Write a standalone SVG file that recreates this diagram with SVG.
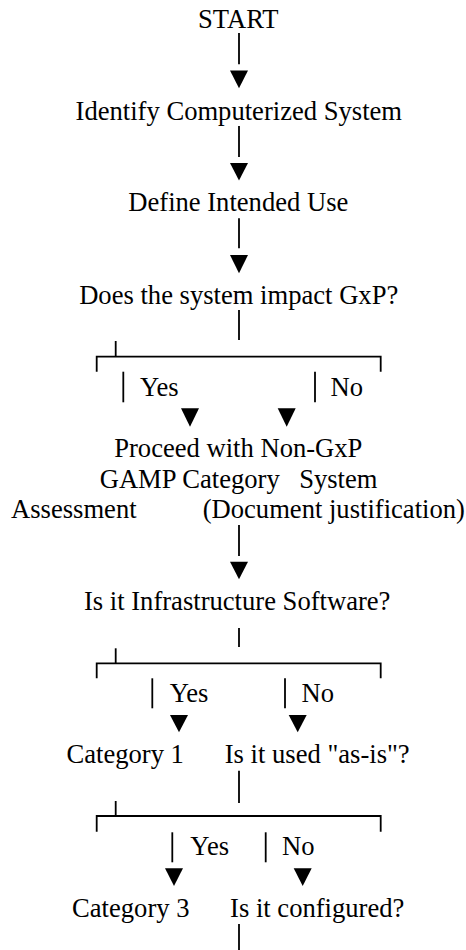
<svg xmlns="http://www.w3.org/2000/svg" width="466" height="950" viewBox="0 0 466 950">
<style>
text{font-family:"Liberation Serif","Times New Roman",serif;font-size:26.6px;fill:#000;text-anchor:middle}
.c line,.c path{stroke:#000;stroke-width:1.8;fill:none}
.c polygon{fill:#000;stroke:none}
</style>
<rect width="466" height="950" fill="#fff"/>
<g id="start"><text x="238.3" y="28.3">START</text></g>
<g id="identify"><text x="238.8" y="119.5">Identify Computerized System</text></g>
<g id="define"><text x="238.3" y="211">Define Intended Use</text></g>
<g id="gxp"><text x="238.7" y="303.5">Does the system impact GxP?</text></g>
<g id="gxp-yes"><text x="159.3" y="396">Yes</text></g>
<g id="gxp-no"><text x="346.8" y="396">No</text></g>
<g id="outcome1">
<text x="238.3" y="457">Proceed with Non-GxP</text>
<text x="189.7" y="487.7">GAMP Category</text>
<text x="338.3" y="487.7">System</text>
<text x="73.8" y="518">Assessment</text>
<text x="333.8" y="518">(Document justification)</text>
</g>
<g id="infra"><text x="237.2" y="610">Is it Infrastructure Software?</text></g>
<g id="infra-yes"><text x="189" y="701.7">Yes</text></g>
<g id="infra-no"><text x="317.8" y="701.7">No</text></g>
<g id="cat1"><text x="125.2" y="763">Category 1</text></g>
<g id="asis"><text x="317.2" y="763">Is it used "as-is"?</text></g>
<g id="asis-yes"><text x="209.7" y="855">Yes</text></g>
<g id="asis-no"><text x="298.3" y="855">No</text></g>
<g id="cat3"><text x="130.8" y="916.5">Category 3</text></g>
<g id="configured"><text x="317.2" y="916.5">Is it configured?</text></g>
<g id="connectors" class="c">
<line x1="239" y1="33" x2="239" y2="64.3"/>
<polygon points="230,70.5 248,70.5 239,88.3"/>
<line x1="239" y1="126" x2="239" y2="157"/>
<polygon points="230,163 248,163 239,180.5"/>
<line x1="239" y1="218.3" x2="239" y2="248.3"/>
<polygon points="230,255 248,255 239,273.3"/>
<line x1="239" y1="310" x2="239" y2="340"/>
<path d="M96.7,371.7V356.7H380.7V371.7"/>
<line x1="115.7" y1="341" x2="115.7" y2="356.7"/>
<line x1="123.3" y1="371.7" x2="123.3" y2="402.3"/>
<line x1="315" y1="371.7" x2="315" y2="402.3"/>
<polygon points="181,408.3 199,408.3 190,426.7"/>
<polygon points="277.7,408.3 295.7,408.3 286.7,426.7"/>
<line x1="239" y1="525" x2="239" y2="556"/>
<polygon points="230,561.7 248,561.7 239,579.3"/>
<line x1="239" y1="628" x2="239" y2="647"/>
<path d="M96.7,678.3V663.3H380.7V678.3"/>
<line x1="115.7" y1="648.3" x2="115.7" y2="663.3"/>
<line x1="152.3" y1="678.3" x2="152.3" y2="708.3"/>
<line x1="285" y1="678.3" x2="285" y2="708.3"/>
<polygon points="170,715 188,715 179,732.3"/>
<polygon points="288.7,715 306.7,715 297.7,732.3"/>
<line x1="239" y1="770.7" x2="239" y2="803"/>
<path d="M96.7,831.7V816H380.7V831.7"/>
<line x1="115.7" y1="801" x2="115.7" y2="816"/>
<line x1="172.3" y1="832.3" x2="172.3" y2="862.3"/>
<line x1="265.7" y1="832.3" x2="265.7" y2="862.3"/>
<polygon points="165,868.3 183,868.3 174,886"/>
<polygon points="293.7,868.3 311.7,868.3 302.7,886"/>
<line x1="239" y1="924" x2="239" y2="950"/>
</g>
</svg>
